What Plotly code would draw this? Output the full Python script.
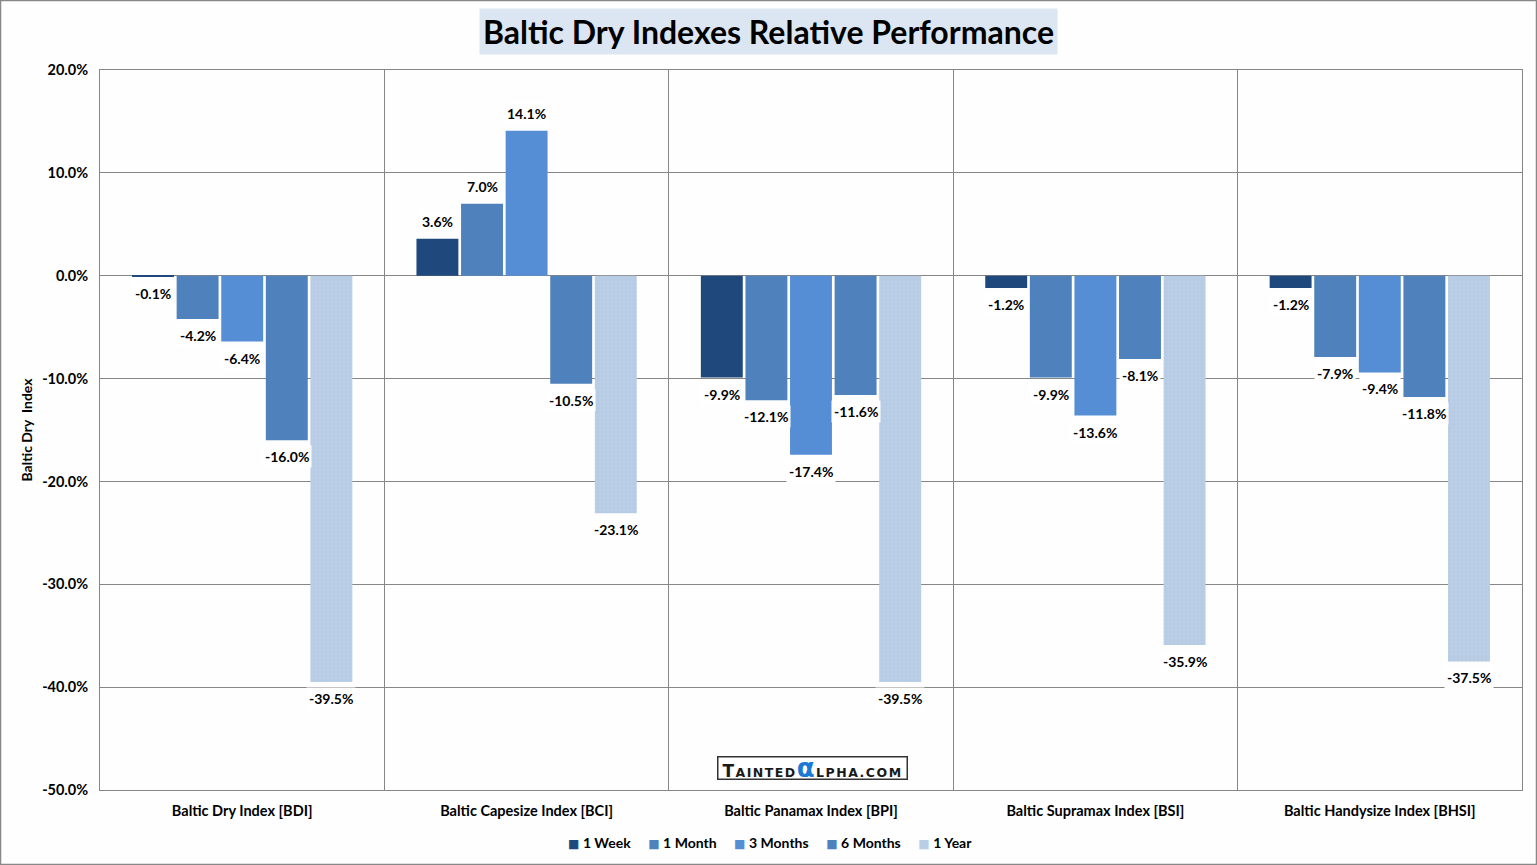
import plotly.graph_objects as go

categories = ["Baltic Dry Index [BDI]", "Baltic Capesize Index [BCI]", "Baltic Panamax Index [BPI]",
              "Baltic Supramax Index [BSI]", "Baltic Handysize Index [BHSI]"]
series_names = ["1 Week", "1 Month", "3 Months", "6 Months", "1 Year"]
week_1 = [-0.1, 3.6, -9.9, -1.2, -1.2]
month_1 = [-4.2, 7.0, -12.1, -9.9, -7.9]
months_3 = [-6.4, 14.1, -17.4, -13.6, -9.4]
months_6 = [-16.0, -10.5, -11.6, -8.1, -11.8]
year_1 = [-39.5, -23.1, -39.5, -35.9, -37.5]
y_ticks = [20, 10, 0, -10, -20, -30, -40, -50]

series_values = [week_1, month_1, months_3, months_6, year_1]
colors = ["#1F497D", "#4F81BD", "#558ED5", "#4F81BD", "#B9CDE5"]

FONT = "Lato"
GRID = "#868686"
W, H = 1537, 865
ML, MR, MT, MB = 100, 15, 70, 75
BARGAP = 0.216

fig = go.Figure()
for name, vals, col in zip(series_names, series_values, colors):
    marker = dict(color=col, line=dict(width=0))
    if name == "1 Year":
        marker["pattern"] = dict(shape=".", fgcolor="#a6c0e0", bgcolor=col, size=4, solidity=0.15)
    fig.add_trace(go.Bar(name=name, x=categories, y=vals, marker=marker, showlegend=False))

# data labels with white background, anchored to each bar's value
slot_px = (W - ML - MR) / len(categories) * (1 - BARGAP) / len(series_names)
annotations = []
for j, vals in enumerate(series_values):
    for cat, v in zip(categories, vals):
        annotations.append(dict(
            x=cat, y=v, xref="x", yref="y", text=f"<b>{v:.1f}%</b>", showarrow=False,
            xshift=(j - (len(series_names) - 1) / 2) * slot_px,
            yanchor="bottom" if v >= 0 else "top", yshift=6 if v >= 0 else -5,
            font=dict(family=FONT, size=14, color="#000000"), bgcolor="#ffffff", borderpad=2))

# legend drawn as a text line
legend_text = "\u2003\u2002".join(
    f"<span style='color:{c};font-family:DejaVu Sans;font-size:12px'>\u25A0</span> <b>{n}</b>"
    for n, c in zip(series_names, colors))
annotations.append(dict(text=legend_text, xref="paper", yref="paper", x=(770 - ML) / (W - ML - MR),
                        y=-(842 - (H - MB)) / (H - MT - MB), xanchor="center", yanchor="middle",
                        showarrow=False, font=dict(family=FONT, size=14, color="#000000")))

annotations.append(dict(
    text="<b>Baltic Dry Indexes Relative Performance</b>", xref="paper", yref="paper",
    x=(768 - ML) / (W - ML - MR), y=((H - MB) - 8) / (H - MT - MB), xanchor="center", yanchor="top",
    showarrow=False, font=dict(family=FONT, size=32, color="#000000"), bgcolor="#dce6f2", borderpad=3))

ls = "letter-spacing:1.5px"
annotations.append(dict(
    text=f"<b><span style='font-size:17px;{ls}'>T</span><span style='font-size:12.5px;{ls}'>AINTED</span>"
         f"<span style='color:#1a7ad4;font-size:26px;{ls}'>\u03b1</span>"
         f"<span style='font-size:12.5px;{ls}'>LPHA.COM</span></b>",
    xref="paper", yref="paper", x=(812 - ML) / (W - ML - MR), y=((H - MB) - 768) / (H - MT - MB),
    xanchor="center", yanchor="middle", showarrow=False, width=188, height=21,
    font=dict(family="DejaVu Sans", size=12, color="#1a1a1a"),
    bgcolor="#ffffff", bordercolor="#333333", borderwidth=1.5, borderpad=0))

fig.update_layout(
    width=W, height=H,
    barmode="group", bargap=BARGAP, bargroupgap=0.06,
    paper_bgcolor="#fdfefd", plot_bgcolor="#fdfefd",
    margin=dict(l=ML, r=MR, t=MT, b=MB),
    font=dict(family=FONT, size=14, color="#000000"),
    showlegend=False,
    xaxis=dict(type="category", tickson="boundaries", showgrid=True, gridcolor=GRID, gridwidth=1,
               showline=True, linecolor=GRID, linewidth=1, mirror=True, ticks="",
               tickfont=dict(family=FONT, size=14.5, weight="bold"), ticklabelstandoff=8),
    yaxis=dict(range=[-50, 20], tickvals=y_ticks, ticktext=[f"{v:.1f}%" for v in y_ticks],
               showgrid=True, gridcolor=GRID, gridwidth=1, zeroline=True, zerolinecolor=GRID,
               zerolinewidth=1, showline=True, linecolor=GRID, linewidth=1, mirror=True,
               ticks="", tickfont=dict(family=FONT, size=14.5, weight="bold"), ticklabelstandoff=8,
               title=dict(text="<b>Baltic Dry\u00a0 Index</b>", font=dict(family=FONT, size=14), standoff=6)),
    annotations=annotations,
    shapes=[dict(type="rect", xref="paper", yref="paper",
                 x0=-(ML - 0.5) / (W - ML - MR), x1=(W - 0.5 - ML) / (W - ML - MR),
                 y0=-(MB - 0.5) / (H - MT - MB), y1=((H - MB) - 0.5) / (H - MT - MB),
                 line=dict(color="#888888", width=1.5), fillcolor="rgba(0,0,0,0)", layer="below")],
)

fig.write_html("out.html", config={"displayModeBar": False},
               post_script="document.body.style.margin='0';document.body.style.overflow='hidden';")
